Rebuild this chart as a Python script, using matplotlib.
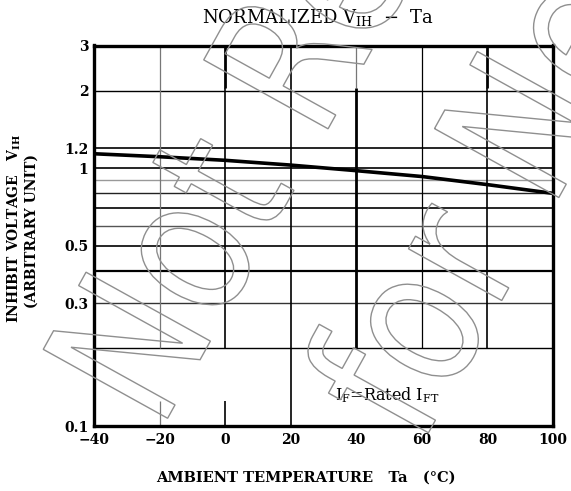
import matplotlib
matplotlib.use("Agg")
import matplotlib.pyplot as plt
from matplotlib.textpath import TextPath
from matplotlib.patches import PathPatch
from matplotlib.font_manager import FontProperties
from matplotlib.transforms import Affine2D

plt.rcParams["font.family"] = "DejaVu Serif"
plt.rcParams["mathtext.fontset"] = "dejavuserif"

# Normalized inhibit voltage vs ambient temperature
temps = [-40, -20, 0, 20, 40, 60, 80, 100]
vih = [1.14, 1.11, 1.075, 1.03, 0.98, 0.93, 0.865, 0.80]

x_ticks = [-40, -20, 0, 20, 40, 60, 80, 100]
x_labels = ["\u221240", "\u221220", "0", "20", "40", "60", "80", "100"]
y_ticks = [0.1, 0.3, 0.5, 1, 1.2, 2, 3]
y_labels = ["0.1", "0.3", "0.5", "1", "1.2", "2", "3"]

# horizontal grid levels (value, colour, width)
h_levels = [2, 1.2, 1.0, 0.9, 0.8, 0.7, 0.6, 0.5, 0.4, 0.3, 0.2]
h_colors = ["k", "k", "k", "#999999", "#222222", "k", "#555555", "k", "k", "#333333", "k"]
h_widths = [1.0, 1.2, 1.2, 1.0, 1.0, 1.2, 1.0, 1.2, 1.6, 1.0, 1.0]

fig = plt.figure(figsize=(5.71, 4.91), dpi=100)
W, H = 571, 491
ax = fig.add_axes([94 / W, 1 - 426 / H, (553 - 94) / W, (426 - 45.5) / H])
ax.set_yscale("log")
ax.set_xlim(-40, 100)
ax.set_ylim(0.1, 3)

for lev, c, lw in zip(h_levels, h_colors, h_widths):
    ax.hlines(lev, -40, 100, colors=c, linewidth=lw, zorder=1)

# vertical grid, drawn in pieces like the original sheet
ax.vlines(-20, 0.2, 3, colors="#777777", linewidth=0.9)
ax.vlines(-20, 0.1, 0.125, colors="#777777", linewidth=0.9)
ax.vlines(0, 2.05, 3, colors="k", linewidth=2.0)
ax.vlines(0, 0.2, 2.05, colors="k", linewidth=1.2)
ax.vlines(0, 0.1, 0.125, colors="k", linewidth=1.2)
ax.vlines(20, 0.1, 3, colors="k", linewidth=1.2)
ax.vlines(40, 2.05, 3, colors="#777777", linewidth=0.9)
ax.vlines(40, 0.2, 2.05, colors="k", linewidth=2.0)
ax.vlines(60, 0.2, 3, colors="k", linewidth=0.9)
ax.vlines(80, 2.05, 3, colors="k", linewidth=2.0)
ax.vlines(80, 0.2, 2.05, colors="k", linewidth=1.2)

ax.plot(temps, vih, color="k", linewidth=2.6, solid_capstyle="butt", zorder=3)

ax.text(33.5, 0.132, r"I$_{\rm F}$=Rated I$_{\rm FT}$", fontsize=11.5, va="center", ha="left")

for s in ax.spines.values():
    s.set_linewidth(2.4)
ax.minorticks_off()
ax.set_xticks(x_ticks)
ax.set_xticklabels(x_labels, fontweight="bold", fontsize=10)
ax.set_yticks(y_ticks)
ax.set_yticklabels(y_labels, fontweight="bold", fontsize=10)
ax.yaxis.set_minor_locator(matplotlib.ticker.NullLocator())
ax.tick_params(length=0, pad=5)
ax.tick_params(axis="y", pad=4)

fig.text(318 / W, 1 - 18 / H, r"NORMALIZED V$_{\rm IH}$  $-$  Ta", fontsize=13,
         ha="center", va="center")
fig.text(306 / W, 1 - 478 / H, "AMBIENT TEMPERATURE   Ta   (\u00b0C)", fontsize=10.5,
         fontweight="bold", ha="center", va="center")
fig.text(14 / W, 1 - 228 / H, r"INHIBIT VOLTAGE   V$_{\bf IH}$", fontsize=10,
         fontweight="bold", rotation=90, ha="center", va="center")
fig.text(32 / W, 1 - 231 / H, "(ARBITRARY UNIT)", fontsize=10,
         fontweight="bold", rotation=90, ha="center", va="center")

# hollow diagonal watermark
wm_font = FontProperties(family="DejaVu Sans")
for txt, x0, y0 in [("Not Recommended", 160, H - 432), ("for New Design", 420, H - 448)]:
    tp = TextPath((0, 0), txt, size=195, prop=wm_font)
    tr = Affine2D().scale(0.82, 1).rotate_deg(61).translate(x0, y0)
    fig.add_artist(PathPatch(tp, transform=tr, fill=False, edgecolor="#8f8f8f",
                             linewidth=1.0, zorder=10))

fig.savefig("out.png", dpi=100)
